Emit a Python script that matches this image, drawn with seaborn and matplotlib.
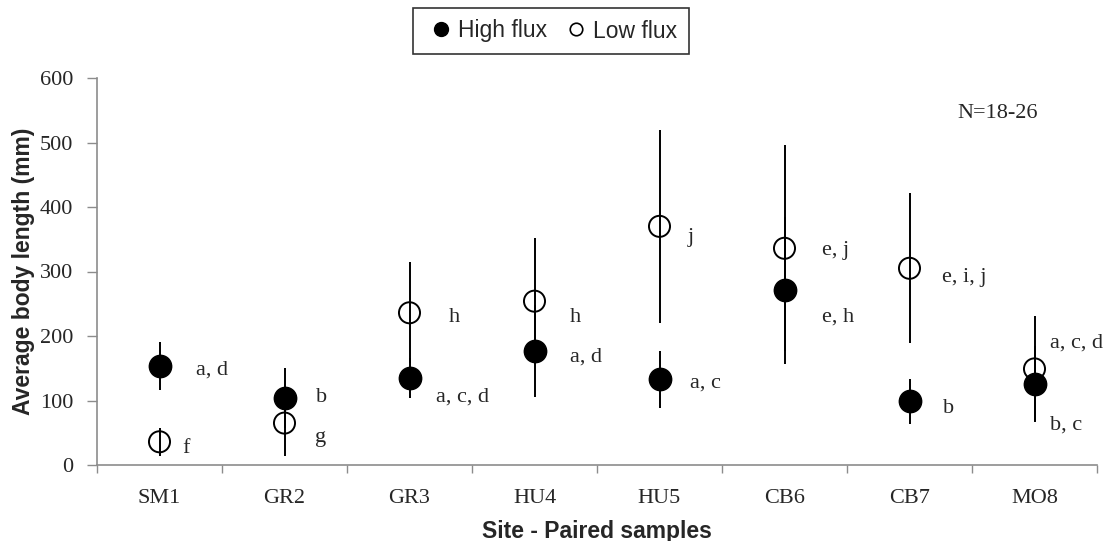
import numpy as np
import pandas as pd
import matplotlib
matplotlib.use("Agg")
import matplotlib.pyplot as plt
from matplotlib.lines import Line2D
from matplotlib.ticker import FixedLocator
import seaborn as sns

# ---------------- data ----------------
sites = ["SM1", "GR2", "GR3", "HU4", "HU5", "CB6", "CB7", "MO8"]
high_mean = [153, 104, 135, 177, 133, 271, 99, 126]
high_err = [37, 46, 31, 71, 44, 114, 35, 58]
low_mean = [36, 65, 236, 254, 370, 336, 305, 149]
low_err = [22, 51, 78, 98, 150, 160, 116, 82]
high_letters = ["a, d", "b", "a, c, d", "a, d", "a, c", "e, h", "b", "b, c"]
low_letters = ["f", "g", "h", "h", "j", "e, j", "e, i, j", "a, c, d"]
series_names = ["High flux", "Low flux"]
y_ticks = [0, 100, 200, 300, 400, 500, 600]
n_note = "N=18-26"

# annotation layout (not data)
high_lab_dx = [36, 31, 27, 35, 30, 37, 33, 15]   # px right of centre
low_lab_dx = [23, 31, 39, 35, 28, 37, 33, 15]
high_lab_y = [147, 105, 105, 167, 127, 229, 87, 62]
low_lab_y = [26, 42, 229, 229, 352, 333, 290, 189]

# ---------------- style ----------------
sns.set_style("ticks")
serif = ["Liberation Serif", "DejaVu Serif"]
sans = ["Liberation Sans", "DejaVu Sans"]
plt.rcParams["font.family"] = serif

fig = plt.figure(figsize=(11.04, 5.41), dpi=100)
ax = fig.add_axes([97 / 1104, 76 / 541, 1000 / 1104, 387 / 541])

df = pd.DataFrame({
    "site": sites * 2,
    "value": high_mean + low_mean,
    "err": high_err + low_err,
    "series": [series_names[0]] * len(sites) + [series_names[1]] * len(sites),
})
df["pos"] = list(range(len(sites))) * 2

# error bars
for name in series_names:
    sub = df[df["series"] == name]
    ax.errorbar(sub["pos"], sub["value"], yerr=sub["err"], fmt="none",
                ecolor="black", elinewidth=1.4, capsize=0, zorder=2)

# markers via seaborn
hi = df[df["series"] == series_names[0]]
lo = df[df["series"] == series_names[1]]
sns.scatterplot(data=hi, x="pos", y="value", ax=ax, s=260, color="black",
                edgecolor="black", linewidth=1, zorder=3, legend=False)
sns.scatterplot(data=lo, x="pos", y="value", ax=ax, s=230, facecolor="none",
                edgecolor="black", linewidth=1.4, zorder=4, legend=False)

# letters
cat_px = 125.0
for i in range(len(sites)):
    ax.text(i + high_lab_dx[i] / cat_px, high_lab_y[i], high_letters[i],
            ha="left", va="center", fontsize=16, family=serif)
    ax.text(i + low_lab_dx[i] / cat_px, low_lab_y[i], low_letters[i],
            ha="left", va="center", fontsize=16, family=serif)

fig.text(998 / 1104, 1 - 113 / 541, n_note, ha="center", va="center",
         fontsize=16, family=serif)

# axes
ax.set_xlim(-0.5, len(sites) - 0.5)
ax.set_ylim(0, 600)
ax.set_yticks(y_ticks)
ax.set_yticklabels([str(t) for t in y_ticks])
ax.set_xticks(range(len(sites)))
ax.set_xticklabels(sites)
ax.xaxis.set_minor_locator(FixedLocator(np.arange(-0.5, len(sites), 1.0)))
ax.tick_params(axis="x", which="major", length=0, pad=17, labelsize=16)
ax.tick_params(axis="x", which="minor", length=6, width=1, color="#8c8c8c",
               direction="out")
ax.tick_params(axis="y", which="major", length=7, width=1, color="#8c8c8c",
               direction="out", pad=10, labelsize=16)
for lab in ax.get_xticklabels() + ax.get_yticklabels():
    lab.set_fontfamily(serif)

sns.despine(ax=ax)
for sp in ["left", "bottom"]:
    ax.spines[sp].set_color("#8c8c8c")
    ax.spines[sp].set_linewidth(1.2)

ax.set_xlabel("Site - Paired samples", fontsize=16.5, fontweight="bold",
              family=sans)
ax.set_ylabel("Average body length (mm)", fontsize=16.5, fontweight="bold",
              family=sans)
ax.xaxis.set_label_coords(0.5, -0.142)
ax.yaxis.set_label_coords(-0.062, 0.5)

# legend
handles = [
    Line2D([], [], marker="o", linestyle="none", markersize=10,
           markerfacecolor="black", markeredgecolor="black"),
    Line2D([], [], marker="o", linestyle="none", markersize=9,
           markerfacecolor="none", markeredgecolor="black", markeredgewidth=1.2),
]
leg = fig.legend(handles, series_names, loc="center",
                 bbox_to_anchor=(551 / 1104, 1 - 31 / 541), ncol=2,
                 frameon=True, fancybox=False, edgecolor="black",
                 prop={"family": sans, "size": 16.5}, handlelength=1.4,
                 handletextpad=0.05, columnspacing=0.55, borderpad=0.5,
                 borderaxespad=0)
leg.get_frame().set_linewidth(1.2)

fig.savefig("out.png", dpi=100)
